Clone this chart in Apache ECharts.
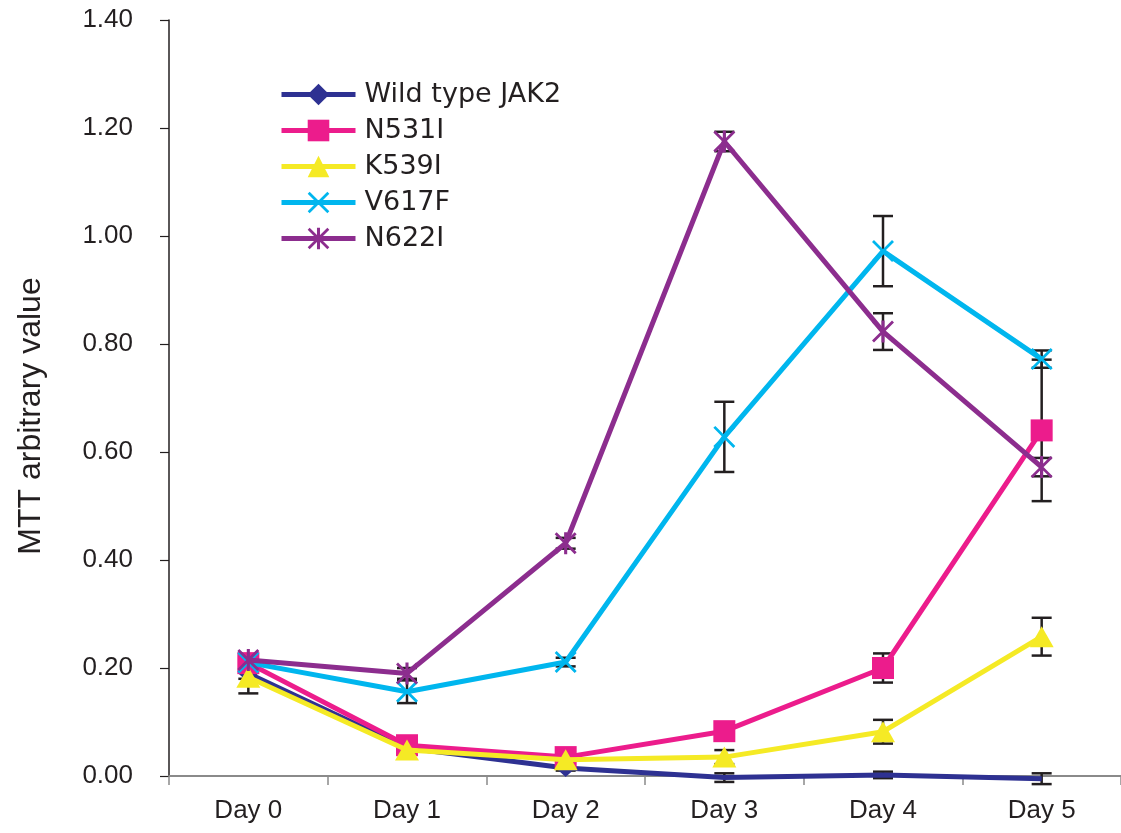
<!DOCTYPE html>
<html>
<head>
<meta charset="utf-8">
<script src="https://cdn.jsdelivr.net/npm/echarts@6/dist/echarts.min.js"></script>
<style>
html,body{margin:0;padding:0;background:#fff;}
#chart{width:1121px;height:833px;}
</style>
</head>
<body>
<div id="chart"></div>
<script>
const categories = ['Day 0', 'Day 1', 'Day 2', 'Day 3', 'Day 4', 'Day 5'];
const seriesNames = ['Wild type JAK2', 'N531I', 'K539I', 'V617F', 'N622I'];

const wildType = [0.190, 0.052, 0.015, -0.003, 0.002, -0.005];
const n531i    = [0.209, 0.057, 0.035, 0.083, 0.200, 0.640];
const k539i    = [0.183, 0.048, 0.030, 0.035, 0.082, 0.258];
const v617f    = [0.210, 0.156, 0.211, 0.628, 0.972, 0.772];
const n622i    = [0.215, 0.190, 0.431, 1.175, 0.823, 0.572];

const wildTypeErr = [0.010, 0.004, 0.005, 0.008, 0.006, 0.010];
const n531iErr    = [0.010, 0.005, 0.005, 0.005, 0.027, 0.131];
const k539iErr    = [0.030, 0.005, 0.005, 0.013, 0.022, 0.035];
const v617fErr    = [0.010, 0.021, 0.008, 0.065, 0.065, 0.016];
const n622iErr    = [0.010, 0.010, 0.010, 0.018, 0.034, 0.017];

const yTicks = [0, 0.2, 0.4, 0.6, 0.8, 1.0, 1.2, 1.4];

const colors = ['#2E3192', '#EC1C8C', '#F5EA25', '#00B6EE', '#8C2D8E'];
const values = [wildType, n531i, k539i, v617f, n622i];
const errors = [wildTypeErr, n531iErr, k539iErr, v617fErr, n622iErr];

const xPath = 'path://M0,9L9,0L100,91L91,100Z M91,0L100,9L9,100L0,91Z';
const starPath = 'path://M0,9L9,0L100,91L91,100Z M91,0L100,9L9,100L0,91Z M43,0L57,0L57,100L43,100Z';
const symbols = ['diamond', 'rect', 'triangle', xPath, starPath];
const symbolSizes = [[20, 18], 22, [24, 21], 22, 22];

const errData = [];
values.forEach((vals, s) => {
  vals.forEach((v, i) => {
    errData.push([i, v - errors[s][i], v + errors[s][i]]);
  });
});

const chart = echarts.init(document.getElementById('chart'));

const lineSeries = values.map((vals, s) => ({
  name: seriesNames[s],
  type: 'line',
  // the reference shows no wild-type markers from Day 3 on (they sit on the axis)
  data: vals.map((v, i) => (s === 0 && i >= 3) ? { value: v, symbol: 'none' } : v),
  symbol: symbols[s],
  symbolSize: symbolSizes[s],
  showAllSymbol: true,
  clip: false,
  z: 3 + s,
  lineStyle: { color: colors[s], width: 5 },
  itemStyle: { color: colors[s], borderWidth: 0 },
  emphasis: { disabled: true },
  animation: false
}));

const errSeries = {
  type: 'custom',
  z: 1,
  silent: true,
  animation: false,
  data: errData,
  renderItem: function (params, api) {
    const x = api.value(0);
    const lo = api.coord([x, api.value(1)]);
    const hi = api.coord([x, api.value(2)]);
    const half = 10;
    const style = { stroke: '#231F20', lineWidth: 2.5, fill: null };
    return {
      type: 'group',
      children: [
        { type: 'line', shape: { x1: lo[0], y1: lo[1], x2: hi[0], y2: hi[1] }, style: style },
        { type: 'line', shape: { x1: lo[0] - half, y1: lo[1], x2: lo[0] + half, y2: lo[1] }, style: style },
        { type: 'line', shape: { x1: hi[0] - half, y1: hi[1], x2: hi[0] + half, y2: hi[1] }, style: style }
      ]
    };
  }
};

chart.setOption({
  animation: false,
  backgroundColor: '#ffffff',
  grid: { left: 169, top: 20, width: 954, bottom: 57, containLabel: false },
  legend: {
    data: seriesNames,
    orient: 'vertical',
    left: 279,
    top: 81,
    padding: 0,
    itemWidth: 74,
    itemHeight: 27,
    itemGap: 9,
    selectedMode: false,
    lineStyle: { width: 5 },
    textStyle: {
      fontFamily: 'DejaVu Sans',
      fontSize: 27,
      lineHeight: 27,
      color: '#231F20',
      padding: [0, 0, 0, 4]
    }
  },
  xAxis: {
    type: 'category',
    data: categories,
    boundaryGap: true,
    axisLine: { lineStyle: { color: '#8a8a8a', width: 2 } },
    axisTick: { show: true, length: 9, lineStyle: { color: '#8a8a8a', width: 1.5 } },
    axisLabel: { fontFamily: 'Liberation Sans', fontSize: 26, color: '#231F20', margin: 22 },
    splitLine: { show: false }
  },
  yAxis: {
    type: 'value',
    min: 0,
    max: 1.4,
    interval: 0.2,
    name: 'MTT arbitrary value',
    nameLocation: 'middle',
    nameGap: 122,
    nameTextStyle: { fontFamily: 'Liberation Sans', fontSize: 32, color: '#231F20', padding: [0, 36, 0, 0] },
    axisLine: { show: true, lineStyle: { color: '#231F20', width: 1.5 } },
    axisTick: { show: true, length: 9, inside: false, lineStyle: { color: '#231F20', width: 1.2 } },
    axisLabel: {
      fontFamily: 'Liberation Sans', fontSize: 26, color: '#231F20', margin: 36,
      formatter: function (v) { return v.toFixed(2); }
    },
    splitLine: { show: false }
  },
  series: [errSeries].concat(lineSeries)
});
</script>
</body>
</html>
